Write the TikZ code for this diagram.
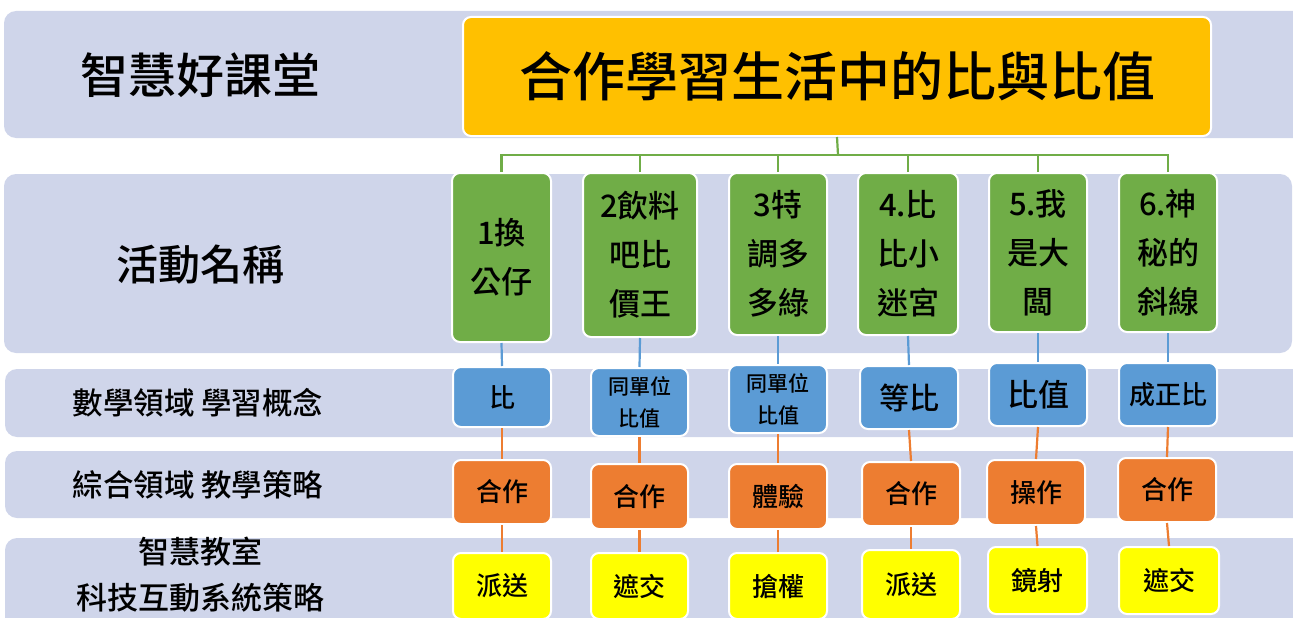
\documentclass[tikz,border=0pt]{standalone}
\usepackage{fontspec}
\setmainfont{Noto Sans CJK TC}[BoldFont={Noto Sans CJK TC Medium}]
\definecolor{bandc}{HTML}{CFD5EA}
\definecolor{grn}{HTML}{70AD47}
\definecolor{blu}{HTML}{5B9BD5}
\definecolor{org}{HTML}{ED7D31}
\definecolor{yel}{HTML}{FFFF00}
\definecolor{gold}{HTML}{FFC000}
\begin{document}
\begin{tikzpicture}[x=1pt,y=-1pt,
  band/.style={fill=bandc,rounded corners=12pt},
  box/.style={rectangle,rounded corners=8pt,draw=white,line width=2pt,inner sep=0pt,align=center,text=black,font=\bfseries},
  gbox/.style={box,fill=grn,font=\bfseries\fontsize{31}{49}\selectfont},
  bbox/.style={box,fill=blu},
  obox/.style={box,fill=org,font=\bfseries\fontsize{26}{30}\selectfont},
  ybox/.style={box,fill=yel,font=\bfseries\fontsize{26}{30}\selectfont},
  lbl/.style={align=center,inner sep=0pt,font=\bfseries},
  gline/.style={draw=grn,line width=2.2pt},
  bline/.style={draw=blu,line width=2.2pt},
  oline/.style={draw=org,line width=2.2pt}]
\useasboundingbox (0,0) rectangle (1293,618);
% bands
\fill[band] (4,11) rectangle (1320,138);
\fill[band] (4,174) rectangle (1292,353);
\fill[band] (5,369) rectangle (1320,437);
\fill[band] (5,451) rectangle (1320,518);
\fill[band] (5,538) rectangle (1320,640);
% left labels
\node[lbl,font=\bfseries\fontsize{48}{52}\selectfont] (l1) at (200,75) {智慧好課堂};
\node[lbl,font=\bfseries\fontsize{42}{46}\selectfont] (l2) at (200,265) {活動名稱};
\node[lbl,font=\bfseries\fontsize{30.5}{34}\selectfont] (l3) at (198,403) {數學領域 學習概念};
\node[lbl,font=\bfseries\fontsize{30.5}{34}\selectfont] (l4) at (198,485) {綜合領域 教學策略};
\node[lbl,font=\bfseries\fontsize{31}{46}\selectfont] (l5) at (200,575) {智慧教室\\科技互動系統策略};
% title
\node[box,fill=gold,minimum width=748pt,minimum height=119pt,font=\bfseries\fontsize{53}{60}\selectfont] (t) at (837,76.5) {合作學習生活中的比與比值};
% green boxes
\node[gbox,minimum width=99pt,minimum height=169pt] (g1) at (501.5,257.5) {1換\\公仔};
\node[gbox,minimum width=114pt,minimum height=164pt] (g2) at (640,255) {2飲料\\吧比\\價王};
\node[gbox,minimum width=98pt,minimum height=162pt] (g3) at (778,254) {3特\\調多\\多綠};
\node[gbox,minimum width=100pt,minimum height=162pt] (g4) at (908,254) {4.比\\比小\\迷宮};
\node[gbox,minimum width=98pt,minimum height=159pt] (g5) at (1038,252.5) {5.我\\是大\\闆};
\node[gbox,minimum width=98pt,minimum height=159pt] (g6) at (1168,252.5) {6.神\\秘的\\斜線};
% blue boxes
\node[bbox,minimum width=98pt,minimum height=60pt,font=\bfseries\fontsize{26}{30}\selectfont] (b1) at (502,397) {比};
\node[bbox,minimum width=97pt,minimum height=68pt,font=\bfseries\fontsize{21}{32}\selectfont] (b2) at (639.5,402) {同單位\\比值};
\node[bbox,minimum width=98pt,minimum height=68pt,font=\bfseries\fontsize{21}{32}\selectfont] (b3) at (778,399) {同單位\\比值};
\node[bbox,minimum width=98pt,minimum height=63pt,font=\bfseries\fontsize{30}{34}\selectfont] (b4) at (909,397.5) {等比};
\node[bbox,minimum width=98pt,minimum height=63pt,font=\bfseries\fontsize{31}{34}\selectfont] (b5) at (1038,394.5) {比值};
\node[bbox,minimum width=98pt,minimum height=63pt,font=\bfseries\fontsize{26}{30}\selectfont] (b6) at (1168,394.5) {成正比};
% orange boxes
\node[obox,minimum width=98pt,minimum height=64pt] (o1) at (502,492) {合作};
\node[obox,minimum width=97pt,minimum height=65pt] (o2) at (639.5,496.5) {合作};
\node[obox,minimum width=98pt,minimum height=65pt] (o3) at (778,496.5) {體驗};
\node[obox,minimum width=98pt,minimum height=64pt] (o4) at (911,494) {合作};
\node[obox,minimum width=98pt,minimum height=65pt] (o5) at (1036,492.5) {操作};
\node[obox,minimum width=98pt,minimum height=64pt] (o6) at (1167,490) {合作};
% yellow boxes
\node[ybox,minimum width=98pt,minimum height=66pt] (y1) at (502,586) {派送};
\node[ybox,minimum width=97pt,minimum height=66pt] (y2) at (639.5,586) {遮交};
\node[ybox,minimum width=98pt,minimum height=66pt] (y3) at (778,586) {搶權};
\node[ybox,minimum width=98pt,minimum height=69pt] (y4) at (911,584.5) {派送};
\node[ybox,minimum width=99pt,minimum height=67pt] (y5) at (1037.5,580.5) {鏡射};
\node[ybox,minimum width=100pt,minimum height=67pt] (y6) at (1169,580.5) {遮交};
% connectors
\coordinate (hub) at (838,155);
\draw[gline] (t.south) -- (hub);
\foreach \i in {1,...,6} {
  \draw[gline] (hub) -| (g\i.north);
  \draw[bline] (g\i.south) -- (b\i.north);
  \draw[oline] (b\i.south) -- (o\i.north);
  \draw[oline] (o\i.south) -- (y\i.north);
}
\end{tikzpicture}
\end{document}
